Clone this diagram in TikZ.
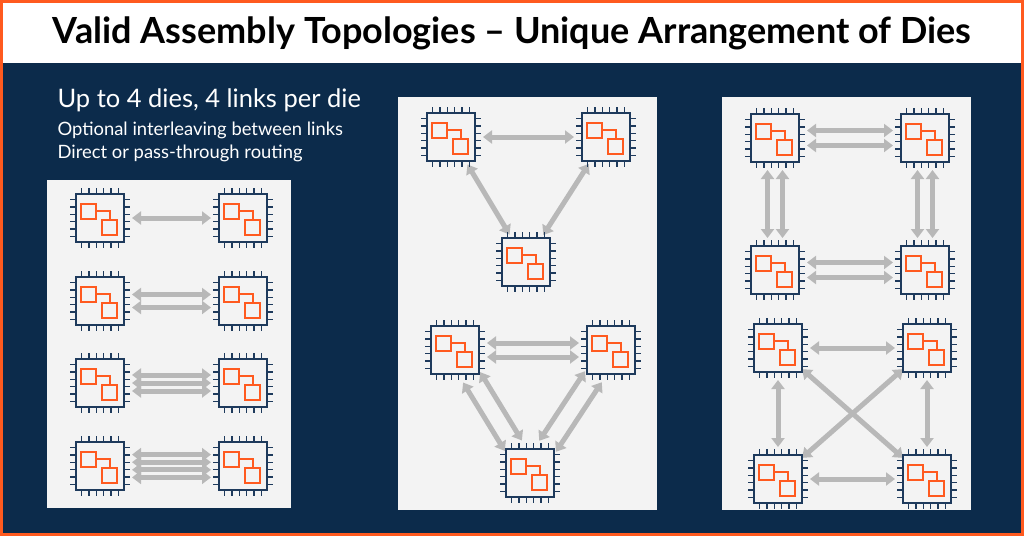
\documentclass[tikz,border=0pt]{standalone}
\usepackage{fontspec}
\setmainfont{Lato}
\usetikzlibrary{arrows.meta,calc,positioning}
\definecolor{navy}{HTML}{0C2B4B}
\definecolor{accent}{HTML}{FF5A1F}
\definecolor{panelbg}{HTML}{F3F3F3}
\definecolor{linkgray}{HTML}{B8B8B8}
\definecolor{pinblue}{HTML}{1E3A5C}
\pgfdeclarelayer{back}
\pgfdeclarelayer{mid}
\pgfsetlayers{back,mid,main}
\tikzset{
    every picture/.style = {x = 1pt, y = -1pt},
    panel/.style = {fill = panelbg, draw = none},
    die/.style = {
        draw = pinblue, line width = 1.8pt, fill = panelbg,
        minimum size = 48pt, inner sep = 0pt, outer sep = 8pt
    },
    pin/.style = {draw = pinblue, line width = 1.5pt},
    block/.style = {draw = accent, line width = 2pt},
    link/.style = {
        draw = linkgray, line width = 5pt,
        {Triangle[length = 9pt, width = 13pt]}-{Triangle[length = 9pt, width = 13pt]}
    },
    diag/.style = {link, shorten < = 32pt, shorten > = 32pt}
}
% one die: name, centre
\newcommand{\die}[2]{%
    \node[die] (#1) at (#2) {};
    \foreach \p in {-18.5, -11.1, -3.7, 3.7, 11.1, 18.5} {
        \draw[pin] ($(#1.center) + (\p, -24)$) -- ++(0, -6);
        \draw[pin] ($(#1.center) + (\p, 24)$) -- ++(0, 6);
        \draw[pin] ($(#1.center) + (-24, \p)$) -- ++(-6, 0);
        \draw[pin] ($(#1.center) + (24, \p)$) -- ++(6, 0);
    }
    \draw[block] ($(#1.center) + (-19, -14)$) rectangle ++(15, 15);
    \draw[block] ($(#1.center) + (2, 2)$) rectangle ++(15, 15);
    \draw[accent, line width = 1.2pt] ($(#1.center) + (-4, -7)$) -| ($(#1.center) + (10, 2)$);
}
% links between named dies
\newcommand{\hlink}[3]{\draw[link] ([yshift = -#3 pt]#1.east) -- ([yshift = -#3 pt]#2.west);}
\newcommand{\vlink}[3]{\draw[link] ([xshift = #3 pt]#1.south) -- ([xshift = #3 pt]#2.north);}
\newcommand{\dlink}[3]{\draw[diag] ($(#1)!#3 pt!90:(#2)$) -- ($(#2)!#3 pt!-90:(#1)$);}

\begin{document}
\begin{tikzpicture}
    \useasboundingbox (0, 0) rectangle (1024, 536);
    \begin{pgfonlayer}{back}
        % frame and title band
        \fill[accent] (0, 0) rectangle (1024, 536);
        \fill[white] (3, 3) rectangle (1021, 63);
        \fill[navy] (3, 63) rectangle (1021, 533);
        % panels
        \fill[panel] (47, 180) rectangle (291, 508);
        \fill[panel] (398, 97) rectangle (657, 510);
        \fill[panel] (722, 97) rectangle (971, 510);
    \end{pgfonlayer}
    \node[font = \fontsize{36}{40}\selectfont\bfseries] (title) at (512, 33)
        {Valid Assembly Topologies -- Unique Arrangement of Dies};

    % notes
    \node[anchor = west, text = white, font = \fontsize{25.5}{30}\selectfont] (head) at (54, 100)
        {Up to 4 dies, 4 links per die};
    \node[anchor = north west, text = white, align = left, font = \fontsize{18.4}{23}\selectfont]
        (notes) at (54, 118) {Optional interleaving between links\\Direct or pass-through routing};

    % panel 1: two dies, one to four links
    \die{aL}{100, 218} \die{aR}{243, 218}
    \die{bL}{100, 301} \die{bR}{243, 301}
    \die{cL}{100, 383} \die{cR}{243, 383}
    \die{dL}{100, 466} \die{dR}{243, 466}

    % panel 2: three dies
    \die{tA}{451, 137} \die{tB}{606, 137} \die{tC}{526, 262}
    \die{uA}{455, 350} \die{uB}{611, 350} \die{uC}{530, 473}

    % panel 3: four dies
    \die{sA}{775, 138} \die{sB}{925, 138} \die{sC}{775, 270} \die{sD}{925, 270}
    \die{xA}{778, 348} \die{xB}{927, 348} \die{xC}{778, 479} \die{xD}{927, 479}

    \begin{pgfonlayer}{mid}
        \hlink{aL}{aR}{0}
        \foreach \s in {-6.5, 6.5} {\hlink{bL}{bR}{\s}}
        \foreach \s in {-8, 0, 8} {\hlink{cL}{cR}{\s}}
        \foreach \s in {-11.4, -3.8, 3.8, 11.4} {\hlink{dL}{dR}{\s}}

        \hlink{tA}{tB}{0}
        \dlink{tA}{tC}{0} \dlink{tB}{tC}{0}
        \foreach \s in {-7, 7} {\hlink{uA}{uB}{\s}}
        \dlink{uA}{uC}{10} \dlink{uA}{uC}{-10}
        \dlink{uB}{uC}{10} \dlink{uB}{uC}{-10}

        \foreach \s in {-7.5, 7.5} {
            \hlink{sA}{sB}{\s} \hlink{sC}{sD}{\s}
            \vlink{sA}{sC}{\s} \vlink{sB}{sD}{\s}
        }
        \hlink{xA}{xB}{0} \hlink{xC}{xD}{0}
        \vlink{xA}{xC}{0} \vlink{xB}{xD}{0}
        \dlink{xA}{xD}{0} \dlink{xB}{xC}{0}
    \end{pgfonlayer}
\end{tikzpicture}
\end{document}
